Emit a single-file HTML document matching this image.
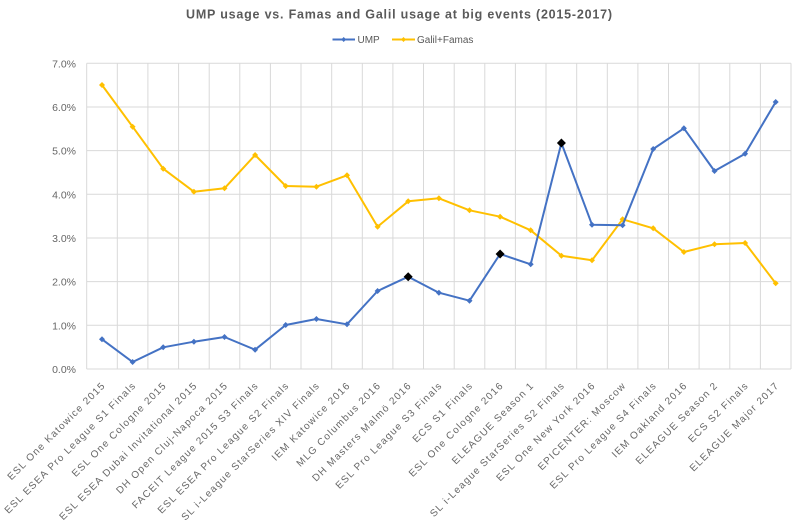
<!DOCTYPE html>
<html>
<head>
<meta charset="utf-8">
<style>
html,body{margin:0;padding:0;background:#fff;}
svg{display:block;}
text{font-family:"Liberation Sans",sans-serif;}
</style>
</head>
<body>
<svg width="800" height="524" viewBox="0 0 800 524" xmlns="http://www.w3.org/2000/svg">
<rect width="800" height="524" fill="#fff"/>
<!-- title -->
<text x="186" y="18.5" font-size="12.5" font-weight="bold" fill="#5a5a5a" textLength="426" lengthAdjust="spacing">UMP usage vs. Famas and Galil usage at big events (2015-2017)</text>
<!-- legend -->
<line x1="332.5" y1="39.5" x2="355" y2="39.5" stroke="#4472C4" stroke-width="2"/>
<path d="M343.7,37 L346.2,39.5 L343.7,42 L341.2,39.5 Z" fill="#4472C4"/>
<text x="357.5" y="43" font-size="10" fill="#595959">UMP</text>
<line x1="392" y1="39.5" x2="415" y2="39.5" stroke="#FFC000" stroke-width="2"/>
<path d="M403.5,37 L406,39.5 L403.5,42 L401,39.5 Z" fill="#FFC000"/>
<text x="417" y="43" font-size="10" fill="#595959">Galil+Famas</text>
<!-- partial y-axis title -->
<text x="-3" y="266" font-size="11" fill="#777">)</text>

<!-- grid -->
<g stroke="#d9d9d9" stroke-width="1" fill="none">
<line x1="86.7" y1="63.3" x2="791" y2="63.3"/>
<line x1="86.7" y1="107" x2="791" y2="107"/>
<line x1="86.7" y1="150.6" x2="791" y2="150.6"/>
<line x1="86.7" y1="194.3" x2="791" y2="194.3"/>
<line x1="86.7" y1="238" x2="791" y2="238"/>
<line x1="86.7" y1="281.6" x2="791" y2="281.6"/>
<line x1="86.7" y1="325.3" x2="791" y2="325.3"/>
<line x1="86.7" y1="369" x2="791" y2="369"/>
<line x1="86.7" y1="63.3" x2="86.7" y2="369"/>
<line x1="117.3" y1="63.3" x2="117.3" y2="369"/>
<line x1="147.9" y1="63.3" x2="147.9" y2="369"/>
<line x1="178.6" y1="63.3" x2="178.6" y2="369"/>
<line x1="209.2" y1="63.3" x2="209.2" y2="369"/>
<line x1="239.8" y1="63.3" x2="239.8" y2="369"/>
<line x1="270.4" y1="63.3" x2="270.4" y2="369"/>
<line x1="301.0" y1="63.3" x2="301.0" y2="369"/>
<line x1="331.7" y1="63.3" x2="331.7" y2="369"/>
<line x1="362.3" y1="63.3" x2="362.3" y2="369"/>
<line x1="392.9" y1="63.3" x2="392.9" y2="369"/>
<line x1="423.5" y1="63.3" x2="423.5" y2="369"/>
<line x1="454.2" y1="63.3" x2="454.2" y2="369"/>
<line x1="484.8" y1="63.3" x2="484.8" y2="369"/>
<line x1="515.4" y1="63.3" x2="515.4" y2="369"/>
<line x1="546.0" y1="63.3" x2="546.0" y2="369"/>
<line x1="576.7" y1="63.3" x2="576.7" y2="369"/>
<line x1="607.3" y1="63.3" x2="607.3" y2="369"/>
<line x1="637.9" y1="63.3" x2="637.9" y2="369"/>
<line x1="668.5" y1="63.3" x2="668.5" y2="369"/>
<line x1="699.1" y1="63.3" x2="699.1" y2="369"/>
<line x1="729.8" y1="63.3" x2="729.8" y2="369"/>
<line x1="760.4" y1="63.3" x2="760.4" y2="369"/>
<line x1="791" y1="63.3" x2="791" y2="369"/>
</g>

<!-- y tick labels -->
<g font-size="10.5" fill="#666" text-anchor="end">
<text x="76" y="67.3">7.0%</text>
<text x="76" y="111">6.0%</text>
<text x="76" y="154.6">5.0%</text>
<text x="76" y="198.3">4.0%</text>
<text x="76" y="242">3.0%</text>
<text x="76" y="285.6">2.0%</text>
<text x="76" y="329.3">1.0%</text>
<text x="76" y="373">0.0%</text>
</g>

<!-- series: Galil+Famas -->
<polyline fill="none" stroke="#FFC000" stroke-width="2" stroke-linejoin="round" points="102.0,85 132.6,126.7 163.2,168.7 193.9,191.7 224.5,188.3 255.1,155 285.7,186 316.4,186.7 347.0,175.3 377.6,226.7 408.2,201.3 438.9,198.3 469.5,210.3 500.1,216.7 530.7,230.3 561.4,255.7 592.0,260.3 622.6,219.3 653.2,228.3 683.9,252 714.5,244.3 745.1,243 775.7,283.3"/>
<g fill="#FFC000">
<path d="M102.0,82 l3,3 l-3,3 l-3,-3 Z"/>
<path d="M132.6,123.7 l3,3 l-3,3 l-3,-3 Z"/>
<path d="M163.2,165.7 l3,3 l-3,3 l-3,-3 Z"/>
<path d="M193.9,188.7 l3,3 l-3,3 l-3,-3 Z"/>
<path d="M224.5,185.3 l3,3 l-3,3 l-3,-3 Z"/>
<path d="M255.1,152 l3,3 l-3,3 l-3,-3 Z"/>
<path d="M285.7,183 l3,3 l-3,3 l-3,-3 Z"/>
<path d="M316.4,183.7 l3,3 l-3,3 l-3,-3 Z"/>
<path d="M347.0,172.3 l3,3 l-3,3 l-3,-3 Z"/>
<path d="M377.6,223.7 l3,3 l-3,3 l-3,-3 Z"/>
<path d="M408.2,198.3 l3,3 l-3,3 l-3,-3 Z"/>
<path d="M438.9,195.3 l3,3 l-3,3 l-3,-3 Z"/>
<path d="M469.5,207.3 l3,3 l-3,3 l-3,-3 Z"/>
<path d="M500.1,213.7 l3,3 l-3,3 l-3,-3 Z"/>
<path d="M530.7,227.3 l3,3 l-3,3 l-3,-3 Z"/>
<path d="M561.4,252.7 l3,3 l-3,3 l-3,-3 Z"/>
<path d="M592.0,257.3 l3,3 l-3,3 l-3,-3 Z"/>
<path d="M622.6,216.3 l3,3 l-3,3 l-3,-3 Z"/>
<path d="M653.2,225.3 l3,3 l-3,3 l-3,-3 Z"/>
<path d="M683.9,249 l3,3 l-3,3 l-3,-3 Z"/>
<path d="M714.5,241.3 l3,3 l-3,3 l-3,-3 Z"/>
<path d="M745.1,240 l3,3 l-3,3 l-3,-3 Z"/>
<path d="M775.7,280.3 l3,3 l-3,3 l-3,-3 Z"/>
</g>

<!-- series: UMP -->
<polyline fill="none" stroke="#4472C4" stroke-width="2" stroke-linejoin="round" points="102.0,339.3 132.6,362 163.2,347.3 193.9,341.7 224.5,337 255.1,349.7 285.7,325 316.4,319 347.0,324.3 377.6,291 408.2,276.7 438.9,292.7 469.5,300.7 500.1,254 530.7,264.3 561.4,143 592.0,224.7 622.6,225.3 653.2,149 683.9,128.3 714.5,171 745.1,153.7 775.7,102"/>
<g fill="#4472C4">
<path d="M102.0,336.3 l3,3 l-3,3 l-3,-3 Z"/>
<path d="M132.6,359 l3,3 l-3,3 l-3,-3 Z"/>
<path d="M163.2,344.3 l3,3 l-3,3 l-3,-3 Z"/>
<path d="M193.9,338.7 l3,3 l-3,3 l-3,-3 Z"/>
<path d="M224.5,334 l3,3 l-3,3 l-3,-3 Z"/>
<path d="M255.1,346.7 l3,3 l-3,3 l-3,-3 Z"/>
<path d="M285.7,322 l3,3 l-3,3 l-3,-3 Z"/>
<path d="M316.4,316 l3,3 l-3,3 l-3,-3 Z"/>
<path d="M347.0,321.3 l3,3 l-3,3 l-3,-3 Z"/>
<path d="M377.6,288 l3,3 l-3,3 l-3,-3 Z"/>
<path d="M438.9,289.7 l3,3 l-3,3 l-3,-3 Z"/>
<path d="M469.5,297.7 l3,3 l-3,3 l-3,-3 Z"/>
<path d="M530.7,261.3 l3,3 l-3,3 l-3,-3 Z"/>
<path d="M592.0,221.7 l3,3 l-3,3 l-3,-3 Z"/>
<path d="M622.6,222.3 l3,3 l-3,3 l-3,-3 Z"/>
<path d="M653.2,146 l3,3 l-3,3 l-3,-3 Z"/>
<path d="M683.9,125.3 l3,3 l-3,3 l-3,-3 Z"/>
<path d="M714.5,168 l3,3 l-3,3 l-3,-3 Z"/>
<path d="M745.1,150.7 l3,3 l-3,3 l-3,-3 Z"/>
<path d="M775.7,99 l3,3 l-3,3 l-3,-3 Z"/>
</g>
<g fill="#000">
<path d="M408.2,272.2 l4.5,4.5 l-4.5,4.5 l-4.5,-4.5 Z"/>
<path d="M500.1,249.5 l4.5,4.5 l-4.5,4.5 l-4.5,-4.5 Z"/>
<path d="M561.4,138.5 l4.5,4.5 l-4.5,4.5 l-4.5,-4.5 Z"/>
</g>

<!-- x labels -->
<g font-size="10" fill="#666" text-anchor="end" letter-spacing="1.2">
<text transform="translate(106,386) rotate(-45)">ESL One Katowice 2015</text>
<text transform="translate(136.6,386) rotate(-45)">ESL ESEA Pro League S1 Finals</text>
<text transform="translate(167.2,386) rotate(-45)">ESL One Cologne 2015</text>
<text transform="translate(197.9,386) rotate(-45)">ESL ESEA Dubai Invitational 2015</text>
<text transform="translate(228.5,386) rotate(-45)">DH Open Cluj-Napoca 2015</text>
<text transform="translate(259.1,386) rotate(-45)">FACEIT League 2015 S3 Finals</text>
<text transform="translate(289.7,386) rotate(-45)">ESL ESEA Pro League S2 Finals</text>
<text transform="translate(320.4,386) rotate(-45)">SL i-League StarSeries XIV Finals</text>
<text transform="translate(351.0,386) rotate(-45)">IEM Katowice 2016</text>
<text transform="translate(381.6,386) rotate(-45)">MLG Columbus 2016</text>
<text transform="translate(412.2,386) rotate(-45)">DH Masters Malmö 2016</text>
<text transform="translate(442.9,386) rotate(-45)">ESL Pro League S3 Finals</text>
<text transform="translate(473.5,386) rotate(-45)">ECS S1 Finals</text>
<text transform="translate(504.1,386) rotate(-45)">ESL One Cologne 2016</text>
<text transform="translate(534.7,386) rotate(-45)">ELEAGUE Season 1</text>
<text transform="translate(565.4,386) rotate(-45)">SL i-League StarSeries S2 Finals</text>
<text transform="translate(596.0,386) rotate(-45)">ESL One New York 2016</text>
<text transform="translate(626.6,386) rotate(-45)">EPICENTER: Moscow</text>
<text transform="translate(657.2,386) rotate(-45)">ESL Pro League S4 Finals</text>
<text transform="translate(687.9,386) rotate(-45)">IEM Oakland 2016</text>
<text transform="translate(718.5,386) rotate(-45)">ELEAGUE Season 2</text>
<text transform="translate(749.1,386) rotate(-45)">ECS S2 Finals</text>
<text transform="translate(779.7,386) rotate(-45)">ELEAGUE Major 2017</text>
</g>
</svg>
</body>
</html>
